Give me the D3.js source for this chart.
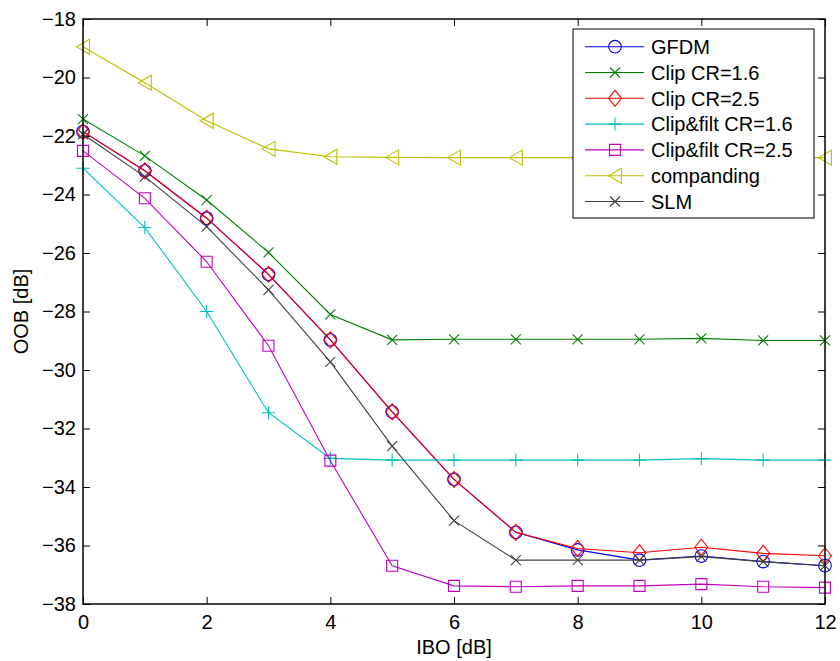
<!DOCTYPE html>
<html>
<head>
<meta charset="utf-8">
<style>
body { margin: 0; background: #fff; }
svg text { font-family: "Liberation Sans", Arial, Helvetica, sans-serif; fill: #000; }
</style>
</head>
<body>
<svg id="chart" width="840" height="661" xmlns="http://www.w3.org/2000/svg"></svg>
<script src="https://cdn.jsdelivr.net/npm/d3@7"></script>
<script>
// IBO values (x axis)
var ibo = [0, 1, 2, 3, 4, 5, 6, 7, 8, 9, 10, 11, 12];

// OOB values per curve
var gfdm       = [-21.85, -23.19, -24.81, -26.73, -28.97, -31.43, -33.74, -35.55, -36.15, -36.50, -36.36, -36.55, -36.69];
var clip16     = [-21.42, -22.68, -24.19, -25.98, -28.10, -28.97, -28.95, -28.95, -28.95, -28.95, -28.92, -28.99, -28.99];
var clip25     = [-21.85, -23.19, -24.81, -26.73, -28.97, -31.43, -33.74, -35.55, -36.10, -36.25, -36.06, -36.27, -36.35];
var clipFilt16 = [-23.10, -25.13, -28.00, -31.46, -33.02, -33.08, -33.08, -33.08, -33.08, -33.08, -33.03, -33.08, -33.08];
var clipFilt25 = [-22.51, -24.13, -26.30, -29.17, -33.10, -36.69, -37.38, -37.41, -37.38, -37.38, -37.32, -37.41, -37.44];
var companding = [-18.95, -20.18, -21.48, -22.44, -22.71, -22.73, -22.74, -22.74, -22.74, -22.74, -22.74, -22.74, -22.74];
var slm        = [-21.94, -23.39, -25.10, -27.26, -29.72, -32.60, -35.15, -36.50, -36.50, -36.50, -36.38, -36.55, -36.69];

var seriesNames = ["GFDM", "Clip CR=1.6", "Clip CR=2.5", "Clip&filt CR=1.6", "Clip&filt CR=2.5", "companding", "SLM"];
var seriesValues = [gfdm, clip16, clip25, clipFilt16, clipFilt25, companding, slm];
var seriesColors = ["#0000ff", "#008000", "#ff0000", "#00bfbf", "#bf00bf", "#bfbf00", "#404040"];
var seriesMarkers = ["circle", "x", "diamond", "plus", "square", "triangleLeft", "x"];

var xTicks = [0, 2, 4, 6, 8, 10, 12];
var yTicks = [-38, -36, -34, -32, -30, -28, -26, -24, -22, -20, -18];

var plotLeft = 83, plotRight = 825, plotTop = 19, plotBottom = 604;

var svg = d3.select("#chart");
var x = d3.scaleLinear().domain([0, 12]).range([plotLeft, plotRight]);
var y = d3.scaleLinear().domain([-38, -18]).range([plotBottom, plotTop]);

function markerPath(type) {
	var p = d3.path();
	if (type == "circle") {
		p.moveTo(6.3, 0); p.arc(0, 0, 6.3, 0, 2 * Math.PI);
	} else if (type == "x") {
		p.moveTo(-5, -5); p.lineTo(5, 5); p.moveTo(-5, 5); p.lineTo(5, -5);
	} else if (type == "plus") {
		p.moveTo(-6.5, 0); p.lineTo(6.5, 0); p.moveTo(0, -6.5); p.lineTo(0, 6.5);
	} else if (type == "diamond") {
		p.moveTo(0, -8); p.lineTo(6.5, 0); p.lineTo(0, 8); p.lineTo(-6.5, 0); p.closePath();
	} else if (type == "square") {
		p.rect(-5.5, -5.5, 11, 11);
	} else if (type == "triangleLeft") {
		p.moveTo(-6.5, 0); p.lineTo(6.5, -7.5); p.lineTo(6.5, 7.5); p.closePath();
	}
	return p.toString();
}

// axes box with inward ticks on all sides
svg.append("g").attr("transform", "translate(0," + plotBottom + ")")
	.call(d3.axisBottom(x).tickValues(xTicks).tickSizeInner(-7).tickSizeOuter(0).tickPadding(11).tickFormat(d3.format("d")));
svg.append("g").attr("transform", "translate(0," + plotTop + ")")
	.call(d3.axisTop(x).tickValues(xTicks).tickSizeInner(-7).tickSizeOuter(0).tickFormat(""));
svg.append("g").attr("transform", "translate(" + plotLeft + ",0)")
	.call(d3.axisLeft(y).tickValues(yTicks).tickSizeInner(-7).tickSizeOuter(0).tickPadding(7).tickFormat(d3.format("d")));
svg.append("g").attr("transform", "translate(" + plotRight + ",0)")
	.call(d3.axisRight(y).tickValues(yTicks).tickSizeInner(-7).tickSizeOuter(0).tickFormat(""));

svg.selectAll(".domain").remove();
svg.selectAll(".tick line").attr("stroke", "#000").attr("stroke-width", 1);
svg.selectAll(".tick text").attr("font-size", 20).attr("font-family", "Liberation Sans, Arial, sans-serif");

// plot lines
var line = d3.line().x(function(d, i){ return x(ibo[i]); }).y(function(d){ return y(d); });
var plot = svg.append("g");
seriesValues.forEach(function(vals, s){
	plot.append("path").datum(vals).attr("d", line)
		.attr("fill", "none").attr("stroke", seriesColors[s]).attr("stroke-width", 1.1);
	plot.selectAll(null).data(vals).enter().append("path")
		.attr("transform", function(d, i){ return "translate(" + x(ibo[i]) + "," + y(d) + ")"; })
		.attr("d", markerPath(seriesMarkers[s]))
		.attr("fill", "none").attr("stroke", seriesColors[s]).attr("stroke-width", 1.1);
});

// box frame
svg.append("rect").attr("x", plotLeft).attr("y", plotTop).attr("width", plotRight - plotLeft).attr("height", plotBottom - plotTop)
	.attr("fill", "none").attr("stroke", "#000").attr("stroke-width", 1.5);

// axis labels
svg.append("text").attr("x", (plotLeft + plotRight) / 2).attr("y", 654).attr("text-anchor", "middle")
	.attr("font-size", 20).text("IBO [dB]");
svg.append("text").attr("transform", "translate(21," + ((plotTop + plotBottom) / 2) + ") rotate(-90)")
	.attr("text-anchor", "middle").attr("dy", "0.35em").attr("font-size", 20).text("OOB [dB]");

// legend
var lg = svg.append("g");
lg.append("rect").attr("x", 573).attr("y", 29).attr("width", 241).attr("height", 189)
	.attr("fill", "#fff").attr("stroke", "#000").attr("stroke-width", 1);
seriesNames.forEach(function(name, s){
	var ly = 46.7 + s * 25.8;
	lg.append("line").attr("x1", 585).attr("x2", 644).attr("y1", ly).attr("y2", ly)
		.attr("stroke", seriesColors[s]).attr("stroke-width", 1.1);
	lg.append("path").attr("transform", "translate(615," + ly + ")")
		.attr("d", markerPath(seriesMarkers[s]))
		.attr("fill", "none").attr("stroke", seriesColors[s]).attr("stroke-width", 1.1);
	lg.append("text").attr("x", 651).attr("y", ly).attr("dy", "0.36em").attr("font-size", 20).text(name);
});
</script>
</body>
</html>
